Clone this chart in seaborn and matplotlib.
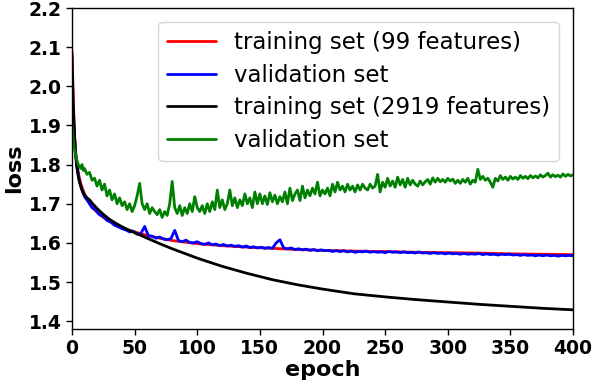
import numpy as np
import pandas as pd
import matplotlib
matplotlib.use("Agg")
import matplotlib.pyplot as plt
import seaborn as sns

# ---- data ----
smooth_epochs = [0, 1, 2, 3, 4, 5, 6, 7, 8, 10, 12, 14, 16, 18, 20, 25, 30, 35, 40, 45,
                 50, 60, 70, 80, 90, 100, 120, 140, 160, 180, 200, 225, 250, 275, 300,
                 325, 350, 375, 400]

train_99 = [2.09, 1.97, 1.88, 1.83, 1.80, 1.78, 1.765, 1.752, 1.742, 1.725, 1.712, 1.70,
            1.692, 1.685, 1.678, 1.665, 1.655, 1.646, 1.639, 1.633, 1.628, 1.619, 1.612,
            1.606, 1.602, 1.598, 1.593, 1.589, 1.586, 1.583, 1.581, 1.579, 1.578, 1.576,
            1.575, 1.574, 1.572, 1.571, 1.570]

train_2919 = [2.08, 1.95, 1.87, 1.82, 1.79, 1.77, 1.755, 1.745, 1.735, 1.722, 1.715, 1.71,
              1.702, 1.695, 1.688, 1.673, 1.660, 1.650, 1.641, 1.633, 1.626, 1.612, 1.598,
              1.585, 1.573, 1.561, 1.540, 1.522, 1.506, 1.493, 1.482, 1.470, 1.462, 1.455,
              1.449, 1.443, 1.438, 1.433, 1.429]

val99_epochs = list(range(0, 10)) + list(range(10, 401, 3))

val_99 = [1.99, 1.93, 1.87, 1.825, 1.795, 1.775, 1.757, 1.745, 1.735, 1.726,
          # 10 .. 37
          1.718, 1.705, 1.690, 1.684, 1.672, 1.668, 1.657, 1.653, 1.645, 1.641,
          # 40 .. 67
          1.636, 1.633, 1.628, 1.630, 1.622, 1.624, 1.642, 1.618, 1.617, 1.612,
          # 70 .. 97
          1.615, 1.610, 1.608, 1.611, 1.632, 1.606, 1.603, 1.607, 1.601, 1.600,
          # 100 .. 127
          1.603, 1.598, 1.596, 1.600, 1.595, 1.597, 1.593, 1.596, 1.592, 1.594,
          # 130 .. 157
          1.591, 1.593, 1.589, 1.592, 1.588, 1.590, 1.587, 1.589, 1.586, 1.588,
          # 160 .. 187
          1.586, 1.600, 1.608, 1.587, 1.585, 1.587, 1.583, 1.585, 1.582, 1.584,
          # 190 .. 217
          1.581, 1.583, 1.580, 1.582, 1.580, 1.581, 1.578, 1.580, 1.578, 1.580,
          # 220 .. 247
          1.577, 1.579, 1.576, 1.578, 1.577, 1.579, 1.576, 1.578, 1.576, 1.577,
          # 250 .. 277
          1.575, 1.578, 1.576, 1.577, 1.575, 1.577, 1.575, 1.576, 1.574, 1.577,
          # 280 .. 307
          1.574, 1.575, 1.573, 1.575, 1.573, 1.574, 1.572, 1.574, 1.572, 1.573,
          # 310 .. 337
          1.571, 1.573, 1.571, 1.572, 1.571, 1.573, 1.570, 1.572, 1.570, 1.571,
          # 340 .. 367
          1.569, 1.571, 1.570, 1.571, 1.569, 1.570, 1.568, 1.570, 1.568, 1.569,
          # 370 .. 397
          1.567, 1.569, 1.567, 1.569, 1.567, 1.568, 1.566, 1.568, 1.567, 1.568,
          # 400
          1.567]

val2919_epochs = list(range(0, 10)) + list(range(10, 401, 2))

val_2919 = [1.91, 1.86, 1.84, 1.82, 1.81, 1.80, 1.795, 1.79, 1.80, 1.785,
            # 10 .. 28
            1.79, 1.775, 1.78, 1.76, 1.765, 1.745, 1.76, 1.735, 1.75, 1.72,
            # 30 .. 48
            1.735, 1.71, 1.725, 1.70, 1.715, 1.695, 1.705, 1.685, 1.70, 1.68,
            # 50 .. 68
            1.695, 1.72, 1.752, 1.70, 1.685, 1.70, 1.675, 1.69, 1.68, 1.672,
            # 70 .. 88
            1.685, 1.665, 1.68, 1.67, 1.70, 1.757, 1.69, 1.675, 1.695, 1.67,
            # 90 .. 108
            1.69, 1.675, 1.70, 1.68, 1.718, 1.69, 1.68, 1.695, 1.675, 1.70,
            # 110 .. 128
            1.68, 1.705, 1.685, 1.735, 1.69, 1.71, 1.685, 1.70, 1.735, 1.695,
            # 130 .. 148
            1.715, 1.69, 1.71, 1.695, 1.725, 1.70, 1.715, 1.69, 1.73, 1.70,
            # 150 .. 168
            1.725, 1.70, 1.72, 1.698, 1.728, 1.705, 1.722, 1.70, 1.718, 1.705,
            # 170 .. 188
            1.73, 1.70, 1.74, 1.708, 1.725, 1.735, 1.708, 1.745, 1.715, 1.735,
            # 190 .. 208
            1.72, 1.74, 1.725, 1.755, 1.72, 1.735, 1.725, 1.74, 1.72, 1.75,
            # 210 .. 228
            1.73, 1.755, 1.735, 1.745, 1.73, 1.75, 1.735, 1.745, 1.73, 1.748,
            # 230 .. 248
            1.735, 1.75, 1.74, 1.735, 1.75, 1.74, 1.745, 1.775, 1.73, 1.755,
            # 250 .. 268
            1.742, 1.765, 1.745, 1.758, 1.742, 1.768, 1.748, 1.762, 1.742, 1.765,
            # 270 .. 288
            1.748, 1.76, 1.75, 1.745, 1.758, 1.748, 1.756, 1.762, 1.75, 1.766,
            # 290 .. 308
            1.755, 1.765, 1.756, 1.762, 1.755, 1.765, 1.758, 1.763, 1.752, 1.76,
            # 310 .. 328
            1.752, 1.762, 1.755, 1.765, 1.75, 1.76, 1.755, 1.788, 1.762, 1.77,
            # 330 .. 348
            1.76, 1.765, 1.755, 1.742, 1.765, 1.758, 1.772, 1.762, 1.768, 1.76,
            # 350 .. 368
            1.77, 1.763, 1.768, 1.762, 1.772, 1.765, 1.77, 1.764, 1.772, 1.766,
            # 370 .. 388
            1.771, 1.766, 1.774, 1.768, 1.772, 1.778, 1.768, 1.774, 1.769, 1.773,
            # 390 .. 400
            1.768, 1.776, 1.77, 1.775, 1.771, 1.774]

labels = ["training set (99 features)", "validation set",
          "training set (2919 features)", "validation set"]
colors = ["red", "blue", "black", "green"]

xticks = [0, 50, 100, 150, 200, 250, 300, 350, 400]
yticks = [1.4, 1.5, 1.6, 1.7, 1.8, 1.9, 2.0, 2.1, 2.2]

# ---- plot ----
sns.set_style("ticks")
plt.rcParams["font.family"] = ["DejaVu Sans"]
plt.rcParams["text.color"] = "black"
plt.rcParams["axes.labelcolor"] = "black"
plt.rcParams["xtick.color"] = "black"
plt.rcParams["ytick.color"] = "black"

fig = plt.figure(figsize=(5.94, 3.88), dpi=100)
ax = fig.add_axes([72 / 594, 59 / 388, 501 / 594, 321 / 388])

series = [
    (smooth_epochs, train_99),
    (val99_epochs, val_99),
    (smooth_epochs, train_2919),
    (val2919_epochs, val_2919),
]
for (xs, ys), lab, col in zip(series, labels, colors):
    df = pd.DataFrame({"epoch": xs, "loss": ys})
    sns.lineplot(data=df, x="epoch", y="loss", color=col, label=lab,
                 linewidth=2.0, ax=ax, estimator=None)

ax.set_xlim(0, 400)
ax.set_ylim(1.38, 2.2)
ax.set_xticks(xticks)
ax.set_yticks(yticks)
ax.set_xticklabels([str(t) for t in xticks], fontsize=13.5, fontweight="bold")
ax.set_yticklabels([f"{t:.1f}" for t in yticks], fontsize=13.5, fontweight="bold")
ax.set_xlabel("epoch", fontsize=16, fontweight="bold", labelpad=1)
ax.set_ylabel("loss", fontsize=16, fontweight="bold", labelpad=3)
for s in ax.spines.values():
    s.set_visible(True)
    s.set_color("black")
    s.set_linewidth(1.0)
ax.tick_params(direction="out", length=4, width=1, colors="black")

leg = ax.legend(loc="upper right", fontsize=16.5, labelspacing=0.42,
                handlelength=2.1, borderaxespad=0.6, frameon=True)
leg.get_frame().set_edgecolor("0.8")
for h in leg.get_lines():
    h.set_linewidth(2)

fig.savefig("out.png", dpi=100)
